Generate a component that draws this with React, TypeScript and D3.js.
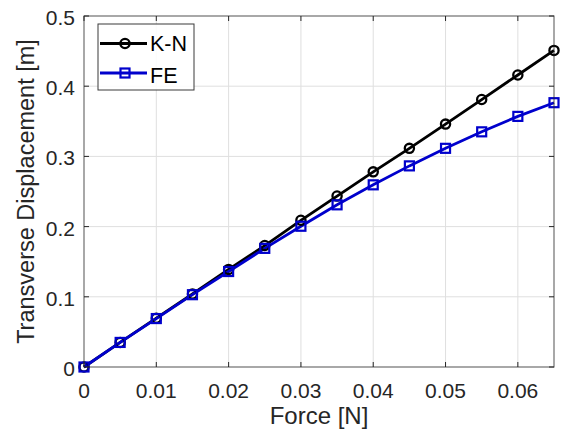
import React from 'react';
import * as d3 from 'd3';

const forces = [0, 0.005, 0.01, 0.015, 0.02, 0.025, 0.03, 0.035, 0.04, 0.045, 0.05, 0.055, 0.06, 0.065];
const knValues = [0, 0.035, 0.0695, 0.104, 0.139, 0.173, 0.209, 0.2435, 0.278, 0.3115, 0.346, 0.381, 0.416, 0.451];
const feValues = [0, 0.035, 0.069, 0.103, 0.136, 0.169, 0.2005, 0.231, 0.2595, 0.2865, 0.3115, 0.335, 0.357, 0.3765];
const xTicks = [0, 0.01, 0.02, 0.03, 0.04, 0.05, 0.06];
const yTicks = [0, 0.1, 0.2, 0.3, 0.4, 0.5];

const W = 563;
const H = 437;
const margin = { left: 84, right: 9, top: 16, bottom: 70 };
const font = "'Liberation Sans', Arial, sans-serif";
const axisColor = '#262626';
const blue = '#0000cc';

export default function App() {
  const x = d3.scaleLinear().domain([0, 0.065]).range([margin.left, W - margin.right]);
  const y = d3.scaleLinear().domain([0, 0.5]).range([H - margin.bottom, margin.top]);
  const line = d3.line<number>().x((_, i) => x(forces[i])).y(d => y(d));

  const x0 = x(0), x1 = x(0.065), y0 = y(0), y1 = y(0.5);
  const tickLen = 5;

  return (
    <svg width={W} height={H} style={{ position: 'absolute', left: 0, top: 0, background: '#fff' }}>
      <rect x={0} y={0} width={W} height={H} fill="#fff" />
      {/* grid */}
      <g stroke="#dfdfdf" strokeWidth={1}>
        {xTicks.slice(1).map(t => (
          <line key={'gx' + t} x1={x(t)} x2={x(t)} y1={y0} y2={y1} />
        ))}
        {yTicks.slice(1, -1).map(t => (
          <line key={'gy' + t} x1={x0} x2={x1} y1={y(t)} y2={y(t)} />
        ))}
      </g>
      {/* series */}
      <path d={line(knValues) || ''} fill="none" stroke="#000" strokeWidth={2.8} />
      <path d={line(feValues) || ''} fill="none" stroke={blue} strokeWidth={2.8} />
      {knValues.map((v, i) => (
        <circle key={'k' + i} cx={x(forces[i])} cy={y(v)} r={4.6} fill="none" stroke="#000" strokeWidth={2.3} />
      ))}
      {feValues.map((v, i) => (
        <rect key={'f' + i} x={x(forces[i]) - 4.5} y={y(v) - 4.5} width={9} height={9} fill="none" stroke={blue} strokeWidth={2.2} />
      ))}
      {/* axes box */}
      <rect x={x0} y={y1} width={x1 - x0} height={y0 - y1} fill="none" stroke={axisColor} strokeWidth={1} opacity={0.8} />
      <g stroke={axisColor} strokeWidth={1}>
        {xTicks.map(t => (
          <g key={'tx' + t}>
            <line x1={x(t)} x2={x(t)} y1={y0} y2={y0 - tickLen} />
            <line x1={x(t)} x2={x(t)} y1={y1} y2={y1 + tickLen} />
          </g>
        ))}
        {yTicks.map(t => (
          <g key={'ty' + t}>
            <line x1={x0} x2={x0 + tickLen} y1={y(t)} y2={y(t)} />
            <line x1={x1} x2={x1 - tickLen} y1={y(t)} y2={y(t)} />
          </g>
        ))}
      </g>
      {/* tick labels */}
      <g fill={axisColor} fontFamily={font} fontSize={21}>
        {xTicks.map(t => (
          <text key={'lx' + t} x={x(t)} y={398} textAnchor="middle">{d3.format('~g')(t)}</text>
        ))}
        {yTicks.map(t => (
          <text key={'ly' + t} x={x0 - 9} y={y(t) + 9} textAnchor="end">{d3.format('~g')(t)}</text>
        ))}
      </g>
      {/* axis labels */}
      <text x={(x0 + x1) / 2} y={424} textAnchor="middle" fontFamily={font} fontSize={24} fill={axisColor}>Force [N]</text>
      <text transform={`translate(34, ${(y0 + y1) / 2}) rotate(-90)`} textAnchor="middle" fontFamily={font} fontSize={23.5} fill={axisColor}>Transverse Displacement [m]</text>
      {/* legend */}
      <g>
        <rect x={98} y={24} width={96} height={66} fill="#fff" stroke={axisColor} strokeWidth={1} opacity={0.9} />
        <line x1={100} x2={147} y1={43.5} y2={43.5} stroke="#000" strokeWidth={2.8} />
        <circle cx={125} cy={43.5} r={4.6} fill="none" stroke="#000" strokeWidth={2.3} />
        <text x={150} y={51} fontFamily={font} fontSize={21.5} fill="#000">K-N</text>
        <line x1={100} x2={147} y1={73} y2={73} stroke={blue} strokeWidth={2.8} />
        <rect x={120.5} y={68.5} width={9} height={9} fill="none" stroke={blue} strokeWidth={2.2} />
        <text x={150} y={83} fontFamily={font} fontSize={21.5} fill="#000">FE</text>
      </g>
    </svg>
  );
}
